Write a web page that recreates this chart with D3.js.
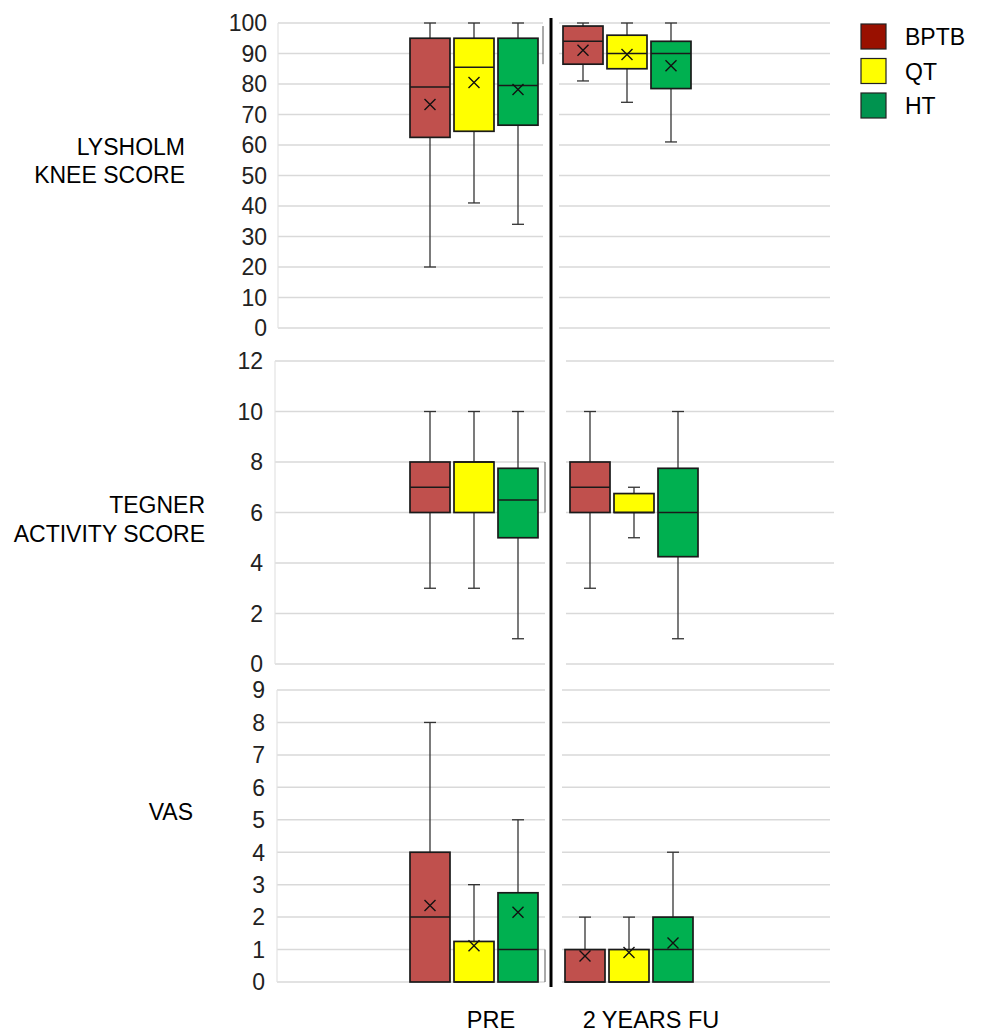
<!DOCTYPE html>
<html>
<head>
<meta charset="utf-8">
<script src="https://cdn.jsdelivr.net/npm/d3@7"></script>
<style>
  html, body { margin: 0; padding: 0; background: #fff; }
  svg { display: block; font-family: "Liberation Sans", Arial, sans-serif; }
</style>
</head>
<body>
<svg id="chart" width="982" height="1033"></svg>
<script>
// ---------- DATA ----------
const series = ["BPTB", "QT", "HT"];
const categories = ["PRE", "2 YEARS FU"];
const boxColors = ["#c0504d", "#ffff00", "#00b050"];
const legendColors = ["#991000", "#ffff00", "#00934f"];

// order: PRE BPTB, PRE QT, PRE HT, FU BPTB, FU QT, FU HT
const lysholmMin    = [20, 41, 34, 81, 74, 61];
const lysholmQ1     = [62.5, 64.5, 66.5, 86.5, 85, 78.5];
const lysholmMedian = [79, 85.5, 79.5, 94, 90, 90];
const lysholmQ3     = [95, 95, 95, 99, 96, 94];
const lysholmMax    = [100, 100, 100, 100, 100, 100];
const lysholmMean   = [73.3, 80.5, 78.2, 91.1, 89.7, 86];
const lysholmTicks  = [0, 10, 20, 30, 40, 50, 60, 70, 80, 90, 100];

const tegnerMin    = [3, 3, 1, 3, 5, 1];
const tegnerQ1     = [6, 6, 5, 6, 6, 4.25];
const tegnerMedian = [7, 8, 6.5, 7, 6, 6];
const tegnerQ3     = [8, 8, 7.75, 8, 6.75, 7.75];
const tegnerMax    = [10, 10, 10, 10, 7, 10];
const tegnerMean   = null;
const tegnerTicks  = [0, 2, 4, 6, 8, 10, 12];

const vasMin    = [0, 0, 0, 0, 0, 0];
const vasQ1     = [0, 0, 0, 0, 0, 0];
const vasMedian = [2, 0, 1, 0, 0, 1];
const vasQ3     = [4, 1.25, 2.75, 1, 1, 2];
const vasMax    = [8, 3, 5, 2, 2, 4];
const vasMean   = [2.36, 1.12, 2.15, 0.8, 0.91, 1.2];
const vasTicks  = [0, 1, 2, 3, 4, 5, 6, 7, 8, 9];

// ---------- LAYOUT ----------
const svg = d3.select("#chart");
const font = "'Liberation Sans', Arial, sans-serif";

const panels = [
  { label: ["LYSHOLM", "KNEE SCORE"], labelX: 185, labelY: [155, 183],
    min: lysholmMin, q1: lysholmQ1, med: lysholmMedian, q3: lysholmQ3, max: lysholmMax, mean: lysholmMean,
    ticks: lysholmTicks, domain: [0, 100], yRange: [328, 23],
    left: [278, 543], right: [559, 830], fuCenter: 627, tickX: 267 },
  { label: ["TEGNER", "ACTIVITY SCORE"], labelX: 205, labelY: [513, 542],
    min: tegnerMin, q1: tegnerQ1, med: tegnerMedian, q3: tegnerQ3, max: tegnerMax, mean: tegnerMean,
    ticks: tegnerTicks, domain: [0, 12], yRange: [664, 361],
    left: [275, 545], right: [566, 834], fuCenter: 634, tickX: 263 },
  { label: ["VAS"], labelX: 193, labelY: [820],
    min: vasMin, q1: vasQ1, med: vasMedian, q3: vasQ3, max: vasMax, mean: vasMean,
    ticks: vasTicks, domain: [0, 9], yRange: [982, 690],
    left: [277, 545], right: [562, 830], fuCenter: 629, tickX: 265 }
];

panels.forEach(p => {
  const g = svg.append("g");
  const y = d3.scaleLinear().domain(p.domain).range(p.yRange);
  const xGroup = d3.scalePoint().domain(categories).range([474, p.fuCenter]);
  const xSeries = d3.scaleBand().domain(series).range([-64, 64]).paddingInner(0.0909).paddingOuter(0);
  const bw = xSeries.bandwidth();

  // gridlines (left and right segment)
  [p.left, p.right].forEach(seg => {
    g.append("g").selectAll("line").data(p.ticks).join("line")
      .attr("x1", seg[0]).attr("x2", seg[1])
      .attr("y1", d => y(d)).attr("y2", d => y(d))
      .attr("stroke", "#d9d9d9").attr("stroke-width", 1.5);
  });
  g.append("line").attr("x1", p.left[0]).attr("x2", p.left[0])
    .attr("y1", y(p.domain[0])).attr("y2", y(p.domain[1]))
    .attr("stroke", "#e3e3e3").attr("stroke-width", 1.2);

  // tick labels
  g.append("g").selectAll("text").data(p.ticks).join("text")
    .attr("x", p.tickX).attr("y", d => y(d))
    .attr("dy", "0.36em").attr("text-anchor", "end")
    .attr("font-size", 23).attr("fill", "#222").attr("font-family", font)
    .text(d => d);

  // panel label
  p.label.forEach((t, i) => {
    g.append("text").attr("x", p.labelX).attr("y", p.labelY[i])
      .attr("text-anchor", "end").attr("font-size", 23).attr("fill", "#000")
      .attr("font-family", font).text(t);
  });

  // clipped edge of the follow-up BPTB box seen at the left panel's right edge
  g.append("line").attr("x1", p.left[1]).attr("x2", p.left[1])
    .attr("y1", y(p.q3[3])).attr("y2", y(p.q1[3]))
    .attr("stroke", "#555").attr("stroke-width", 1);

  // boxes
  const boxes = [];
  categories.forEach((c, ci) => {
    series.forEach((s, si) => {
      const idx = ci * 3 + si;
      boxes.push({
        cx: xGroup(c) + xSeries(s) + bw / 2,
        color: boxColors[si],
        min: p.min[idx], q1: p.q1[idx], med: p.med[idx], q3: p.q3[idx], max: p.max[idx],
        mean: p.mean ? p.mean[idx] : null
      });
    });
  });

  boxes.forEach(b => {
    const bg = g.append("g");
    // whiskers
    bg.append("line").attr("x1", b.cx).attr("x2", b.cx)
      .attr("y1", y(b.max)).attr("y2", y(b.q3))
      .attr("stroke", "#333").attr("stroke-width", 1.3);
    bg.append("line").attr("x1", b.cx).attr("x2", b.cx)
      .attr("y1", y(b.q1)).attr("y2", y(b.min))
      .attr("stroke", "#333").attr("stroke-width", 1.3);
    // caps
    [b.max, b.min].forEach(v => {
      if (v === b.q1 && v === b.min && b.min === 0) return;
      bg.append("line").attr("x1", b.cx - 6).attr("x2", b.cx + 6)
        .attr("y1", y(v)).attr("y2", y(v))
        .attr("stroke", "#333").attr("stroke-width", 1.3);
    });
    // box
    bg.append("rect")
      .attr("x", b.cx - bw / 2).attr("width", bw)
      .attr("y", y(b.q3)).attr("height", y(b.q1) - y(b.q3))
      .attr("fill", b.color).attr("stroke", "#1a1a1a").attr("stroke-width", 1.7);
    // median
    bg.append("line").attr("x1", b.cx - bw / 2).attr("x2", b.cx + bw / 2)
      .attr("y1", y(b.med)).attr("y2", y(b.med))
      .attr("stroke", "#1a1a1a").attr("stroke-width", 1.5);
    // mean marker
    if (b.mean !== null) {
      const my = y(b.mean), r = 5.5;
      bg.append("path")
        .attr("d", `M${b.cx - r},${my - r}L${b.cx + r},${my + r}M${b.cx - r},${my + r}L${b.cx + r},${my - r}`)
        .attr("stroke", "#111").attr("stroke-width", 1.4).attr("fill", "none");
    }
  });
});

// divider between PRE and 2 YEARS FU
svg.append("line").attr("x1", 551).attr("x2", 551).attr("y1", 18).attr("y2", 987)
  .attr("stroke", "#000").attr("stroke-width", 3);

// category labels
const xCatLabel = d3.scalePoint().domain(categories).range([491, 651]);
svg.append("g").selectAll("text").data(categories).join("text")
  .attr("x", d => xCatLabel(d)).attr("y", 1028)
  .attr("text-anchor", "middle").attr("font-size", 23.5).attr("fill", "#000")
  .attr("font-family", font).text(d => d);

// legend
const legY = d3.scalePoint().domain(series).range([24, 93]);
const leg = svg.append("g");
leg.selectAll("rect").data(series).join("rect")
  .attr("x", 861).attr("y", d => legY(d)).attr("width", 25).attr("height", 25)
  .attr("fill", (d, i) => legendColors[i]).attr("stroke", "#222").attr("stroke-width", 1.2);
leg.selectAll("text").data(series).join("text")
  .attr("x", 905).attr("y", d => legY(d) + 21)
  .attr("font-size", 23).attr("fill", "#000").attr("font-family", font)
  .text(d => d);
</script>
</body>
</html>
